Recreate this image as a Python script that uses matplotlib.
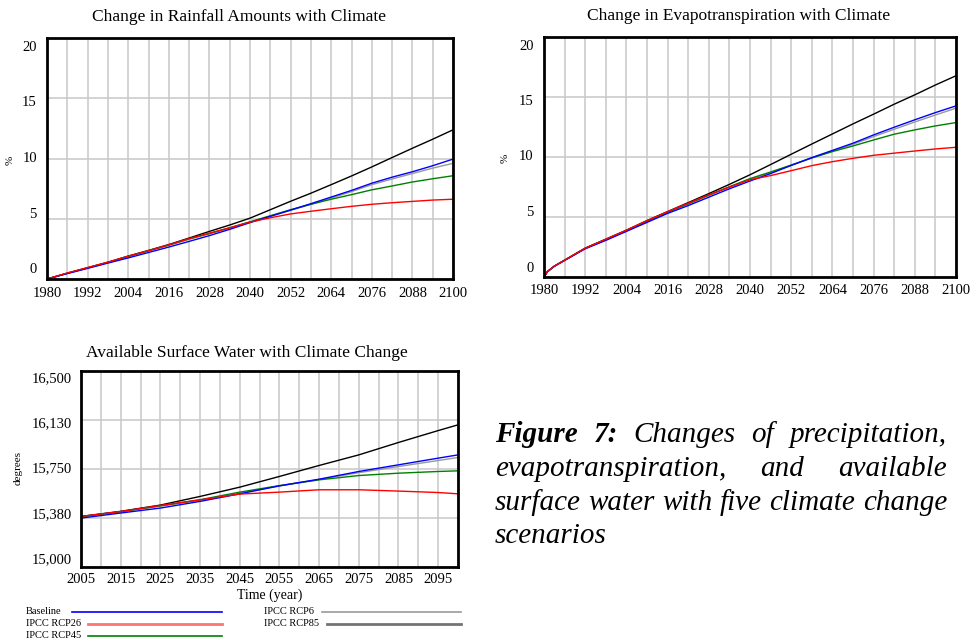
import matplotlib
matplotlib.use("Agg")
import matplotlib.pyplot as plt
from matplotlib.lines import Line2D
import numpy as np

plt.rcParams['font.family'] = ['Liberation Serif', 'DejaVu Serif']

# rainfall change (%), every 6 years
rain_years = [1980, 1986, 1992, 1998, 2004, 2010, 2016, 2022, 2028, 2034, 2040,
              2046, 2052, 2058, 2064, 2070, 2076, 2082, 2088, 2094, 2100]
rain_base = [0, 0.45, 0.88, 1.32, 1.75, 2.2, 2.65, 3.12, 3.6, 4.12, 4.68,
             5.2, 5.72, 6.25, 6.8, 7.35, 7.95, 8.45, 8.9, 9.4, 9.95]
rain_rcp26 = [0, 0.5, 0.95, 1.4, 1.9, 2.35, 2.83, 3.35, 3.8, 4.25, 4.72,
              5.08, 5.4, 5.62, 5.83, 6.03, 6.2, 6.33, 6.44, 6.55, 6.62]
rain_rcp45 = [0, 0.48, 0.93, 1.38, 1.88, 2.35, 2.82, 3.33, 3.78, 4.25, 4.75,
              5.25, 5.75, 6.2, 6.62, 7.0, 7.4, 7.72, 8.05, 8.32, 8.57]
rain_rcp6 = [0, 0.48, 0.92, 1.37, 1.86, 2.33, 2.8, 3.3, 3.76, 4.22, 4.7,
             5.2, 5.7, 6.2, 6.72, 7.25, 7.83, 8.3, 8.75, 9.2, 9.6]
rain_rcp85 = [0, 0.48, 0.93, 1.39, 1.9, 2.37, 2.86, 3.4, 3.95, 4.48, 5.05,
              5.75, 6.45, 7.12, 7.83, 8.55, 9.3, 10.08, 10.85, 11.6, 12.38]

# evapotranspiration change (%)
et_years = [1980, 1981, 1983, 1986, 1992, 1998, 2004, 2010, 2016, 2022, 2028, 2034,
            2040, 2046, 2052, 2058, 2064, 2070, 2076, 2082, 2088, 2094, 2100]
et_base = [0, 0.45, 0.9, 1.38, 2.35, 3.05, 3.8, 4.55, 5.3, 5.95, 6.65, 7.35,
           8.0, 8.62, 9.3, 9.95, 10.55, 11.15, 11.84, 12.48, 13.1, 13.7, 14.26]
et_rcp26 = [0, 0.45, 0.9, 1.4, 2.4, 3.15, 3.9, 4.7, 5.45, 6.15, 6.85, 7.5,
            8.1, 8.45, 8.86, 9.28, 9.61, 9.89, 10.14, 10.32, 10.5, 10.67, 10.81]
et_rcp45 = [0, 0.45, 0.9, 1.4, 2.4, 3.12, 3.88, 4.65, 5.4, 6.1, 6.82, 7.52,
            8.2, 8.75, 9.33, 9.92, 10.45, 10.92, 11.42, 11.9, 12.26, 12.59, 12.87]
et_rcp6 = [0, 0.45, 0.9, 1.4, 2.4, 3.12, 3.87, 4.63, 5.38, 6.08, 6.8, 7.48,
           8.15, 8.7, 9.3, 9.92, 10.5, 11.06, 11.7, 12.31, 12.92, 13.5, 14.07]
et_rcp85 = [0, 0.45, 0.9, 1.4, 2.4, 3.15, 3.9, 4.7, 5.45, 6.2, 6.95, 7.72,
            8.52, 9.37, 10.23, 11.08, 11.92, 12.76, 13.57, 14.4, 15.18, 16.0, 16.77]

# available surface water
sw_years = [2005, 2015, 2025, 2035, 2045, 2055, 2065, 2075, 2085, 2095, 2100]
sw_base = [15374, 15413, 15451, 15502, 15560, 15621, 15672, 15731, 15782, 15833, 15858]
sw_rcp26 = [15387, 15425, 15471, 15514, 15558, 15573, 15591, 15591, 15581, 15570, 15560]
sw_rcp45 = [15385, 15423, 15468, 15515, 15573, 15623, 15667, 15700, 15718, 15731, 15736]
sw_rcp6 = [15385, 15423, 15466, 15510, 15565, 15620, 15670, 15722, 15769, 15815, 15838]
sw_rcp85 = [15387, 15426, 15474, 15540, 15611, 15693, 15777, 15858, 15953, 16044, 16088]

scenarios = ["Baseline", "IPCC RCP26", "IPCC RCP45", "IPCC RCP6", "IPCC RCP85"]
colors = ["#0000ff", "#ff0000", "#008000", "#999999", "#000000"]
draw_order = [3, 4, 2, 0, 1]

sw_ticks = [15000, 15375, 15750, 16125, 16500]
sw_ticklabels = ["15,000", "15,380", "15,750", "16,130", "16,500"]

W, H = 978, 642
fig = plt.figure(figsize=(W / 100, H / 100), dpi=100)


def box(l, t, r, b):
    return [l / W, 1 - b / H, (r - l) / W, (b - t) / H]


def style_axes(ax, xlim, ylim, xgrid, xticks, yticks, ylabels, xpad):
    ax.set_xlim(*xlim)
    ax.set_ylim(*ylim)
    ax.set_xticks(xgrid)
    ax.set_xticklabels([str(x) if x in xticks else "" for x in xgrid], fontsize=10.5)
    ax.set_yticks(yticks)
    ax.set_yticklabels([])
    ax.tick_params(length=0, pad=xpad)
    ax.grid(True, color="#c8c8c8", lw=1.1)
    ax.set_axisbelow(True)
    for s in ax.spines.values():
        s.set_linewidth(2.0)
    # y labels sit slightly inside the gridline positions
    for v, lab in zip(yticks, ylabels):
        f = (v - ylim[0]) / (ylim[1] - ylim[0])
        ax.text(-0.025, 0.5 + (f - 0.5) * 0.925, lab, transform=ax.transAxes,
                ha="right", va="center", fontsize=10.5)


ax1 = fig.add_axes(box(47, 38, 453, 279))
ax2 = fig.add_axes(box(544, 37, 956, 277))
ax3 = fig.add_axes(box(81, 371, 458, 567))

rain = [rain_base, rain_rcp26, rain_rcp45, rain_rcp6, rain_rcp85]
et = [et_base, et_rcp26, et_rcp45, et_rcp6, et_rcp85]
sw = [sw_base, sw_rcp26, sw_rcp45, sw_rcp6, sw_rcp85]

for i in draw_order:
    ax1.plot(rain_years, rain[i], color=colors[i], lw=1.0)
    ax2.plot(et_years, et[i], color=colors[i], lw=1.0)
    ax3.plot(sw_years, sw[i], color=colors[i], lw=1.0)

pct = [0, 5, 10, 15, 20]
style_axes(ax1, (1980, 2100), (0, 20), list(range(1980, 2101, 6)),
           list(range(1980, 2101, 12)), pct, [str(p) for p in pct], 6)
style_axes(ax2, (1980, 2100), (0, 20), list(range(1980, 2101, 6)),
           list(range(1980, 2101, 12)), pct, [str(p) for p in pct], 5)
style_axes(ax3, (2005, 2100), (15000, 16500), list(range(2005, 2101, 5)),
           list(range(2005, 2096, 10)), sw_ticks, sw_ticklabels, 4)

fig.text(239 / W, 1 - 17 / H, "Change in Rainfall Amounts with Climate",
         ha="center", va="center", fontsize=12.5)
fig.text(739 / W, 1 - 16 / H, "Change in Evapotranspiration with Climate",
         ha="center", va="center", fontsize=12.5)
fig.text(247 / W, 1 - 353 / H, "Available Surface Water with Climate Change",
         ha="center", va="center", fontsize=12.5)

fig.text(10 / W, 1 - 160 / H, "%", rotation=90, ha="center", va="center", fontsize=8)
fig.text(505 / W, 1 - 158 / H, "%", rotation=90, ha="center", va="center", fontsize=8)
fig.text(18 / W, 1 - 468 / H, "degrees", rotation=90, ha="center", va="center", fontsize=8)
fig.text(270 / W, 1 - 595 / H, "Time (year)", ha="center", va="center", fontsize=10)

# scenario key under the bottom chart
key = [(26, 612, 72, 222), (26, 624, 88, 222), (26, 636, 88, 222),
       (264, 612, 322, 461), (264, 624, 327, 461)]
key_alpha = [1.0, 0.55, 1.0, 1.0, 0.55]
key_lw = [1.2, 2.0, 1.2, 1.2, 2.0]
for i, (tx, ty, x0, x1) in enumerate(key):
    fig.text(tx / W, 1 - ty / H, scenarios[i], ha="left", va="center", fontsize=7.5)
    fig.add_artist(Line2D([x0 / W, x1 / W], [1 - ty / H, 1 - ty / H],
                          color=colors[i], lw=key_lw[i], alpha=key_alpha[i]))

# justified caption on the right
cap_lines = [
    [("Figure", "bold"), ("7:", "bold"), ("Changes", "normal"), ("of", "normal"),
     ("precipitation,", "normal")],
    [("evapotranspiration,", "normal"), ("and", "normal"), ("available", "normal")],
    [("surface", "normal"), ("water", "normal"), ("with", "normal"), ("five", "normal"),
     ("climate", "normal"), ("change", "normal")],
    [("scenarios", "normal")],
]
cap_y = [442, 476, 510, 543]
cap_x0, cap_x1 = 495, 947
renderer = fig.canvas.get_renderer()
for n, (words, y) in enumerate(zip(cap_lines, cap_y)):
    texts = [fig.text(0, 1 - y / H, w, fontsize=21, style="italic", weight=wt,
                      ha="left", va="baseline") for w, wt in words]
    widths = [t.get_window_extent(renderer).width for t in texts]
    last = n == len(cap_lines) - 1
    gap = 6 if last or len(texts) == 1 else (cap_x1 - cap_x0 - sum(widths)) / (len(texts) - 1)
    x = cap_x0
    for t, w in zip(texts, widths):
        t.set_x(x / W)
        x += w + gap

fig.savefig("out.png", dpi=100)
